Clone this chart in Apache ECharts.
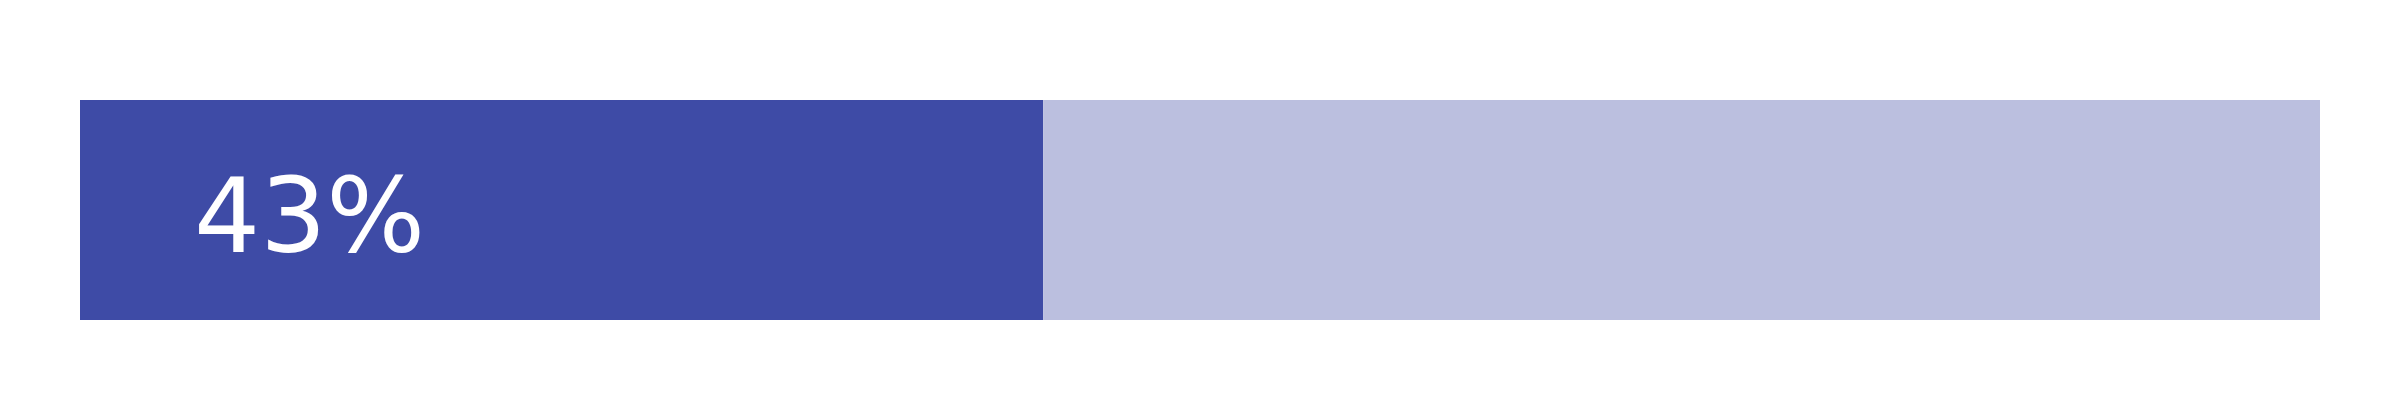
<!DOCTYPE html>
<html><head><meta charset="utf-8">
<script src="https://cdn.jsdelivr.net/npm/echarts@6/dist/echarts.min.js"></script>
<style>html,body{margin:0;padding:0;background:#fff}#c{width:2400px;height:400px}</style>
</head><body><div id="c"></div>
<script>
const categories = ['progress'];
const doneValues = [43];
const restValues = [57];
const labelText = ['43%'];

const chart = echarts.init(document.getElementById('c'), null, {renderer: 'canvas'});
chart.setOption({
  animation: false,
  backgroundColor: '#ffffff',
  grid: {left: 80, right: 80, top: 100, bottom: 80},
  xAxis: {type: 'value', min: 0, max: 100, show: false},
  yAxis: {type: 'category', data: categories, show: false},
  series: [
    {type: 'bar', stack: 't', data: doneValues, barWidth: '100%',
     itemStyle: {color: '#3e4ba6'},
     label: {show: true, position: [114, 125], verticalAlign: 'middle',
       formatter: (p) => labelText[p.dataIndex], color: '#ffffff',
       fontFamily: 'DejaVu Sans', fontSize: 104}},
    {type: 'bar', stack: 't', data: restValues, barWidth: '100%',
     itemStyle: {color: '#bbbfdf'}}
  ]
});
</script></body></html>
